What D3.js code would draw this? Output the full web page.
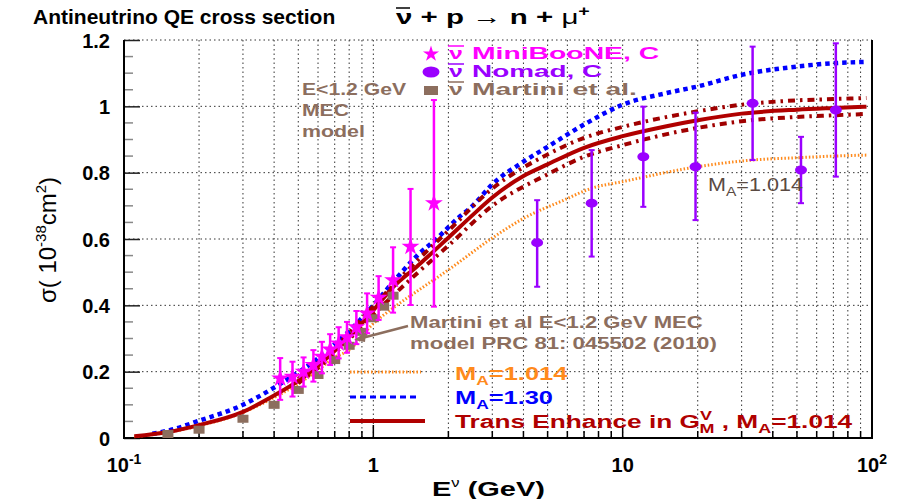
<!DOCTYPE html>
<html><head><meta charset="utf-8">
<script src="https://cdn.jsdelivr.net/npm/d3@7"></script>
<style>
body{margin:0;background:#fff}
svg{display:block}
text{font-family:"Liberation Sans",Arial,Helvetica,sans-serif}
</style>
</head><body>
<svg id="c" width="899" height="499"></svg>
<script>
// ---------- data ----------
const xTickValues = [0.1, 1, 10, 100];
const xTickLabels = [["10","-1"], ["1",""], ["10",""], ["10","2"]];
const yTickValues = [0, 0.2, 0.4, 0.6, 0.8, 1, 1.2];
const yTickLabels = ["0", "0.2", "0.4", "0.6", "0.8", "1", "1.2"];

// MiniBooNE antineutrino CCQE on C
const miniE     = [0.423,0.474,0.525,0.575,0.622,0.671,0.726,0.784,0.855,0.944,1.05,1.2,1.41,1.75];
const miniSigma = [0.18,0.185,0.2,0.22,0.245,0.267,0.285,0.304,0.334,0.376,0.423,0.476,0.577,0.708];
const miniLo    = [0.115,0.125,0.155,0.17,0.195,0.22,0.24,0.257,0.283,0.316,0.356,0.378,0.401,0.396];
const miniHi    = [0.241,0.23,0.243,0.265,0.29,0.313,0.334,0.35,0.383,0.436,0.488,0.575,0.751,1.019];

// NOMAD antineutrino on C
const nomadE     = [4.54,7.51,12.1,19.6,33.2,51.9,71.6];
const nomadSigma = [0.589,0.708,0.848,0.818,1.009,0.808,0.989];
const nomadLo    = [0.456,0.547,0.697,0.657,0.838,0.708,0.788];
const nomadHi    = [0.717,0.868,0.999,0.981,1.18,0.908,1.19];

// Martini et al. MEC model
const martiniE     = [0.15,0.2,0.3,0.4,0.5,0.6,0.7,0.8,0.9,1.0,1.1,1.2];
const martiniSigma = [0.012,0.025,0.058,0.1,0.145,0.19,0.235,0.278,0.32,0.361,0.396,0.429];

// Transverse enhancement curve, M_A=1.014, with error band
const redE     = [0.11,0.15,0.2,0.3,0.4,0.5,0.6,0.7,0.8,1.0,1.2,1.5,2,2.5,3,4,5,7,10,15,20,30,50,70,95];
const redSigma = [0.005,0.018,0.039,0.079,0.128,0.172,0.218,0.263,0.305,0.385,0.455,0.518,0.604,0.672,0.725,0.79,0.825,0.875,0.91,0.94,0.958,0.978,0.99,0.995,0.999];
const bandE    = [0.5,0.7,1,1.5,2,3,5,7,10,20,30,50,70,95];
const bandHi   = [0.178,0.272,0.397,0.535,0.625,0.752,0.855,0.905,0.938,0.985,1.005,1.018,1.022,1.025];
const bandLo   = [0.165,0.255,0.372,0.497,0.58,0.7,0.795,0.848,0.883,0.935,0.955,0.968,0.973,0.977];

// M_A = 1.30
const blueE     = [0.13,0.15,0.2,0.3,0.4,0.5,0.6,0.7,0.8,1.0,1.2,1.5,1.8,2.2,2.5,3,4,5,7,10,15,20,30,50,70,95];
const blueSigma = [0.013,0.022,0.052,0.1,0.152,0.198,0.24,0.283,0.322,0.4,0.47,0.55,0.602,0.665,0.7,0.765,0.833,0.878,0.945,1.005,1.04,1.06,1.095,1.12,1.13,1.134];

// M_A = 1.014
const orangeE     = [0.11,0.15,0.2,0.3,0.4,0.5,0.6,0.7,0.8,1.0,1.2,1.5,2,3,4,5.8,7.5,10,20,33,50,70,95];
const orangeSigma = [0.004,0.017,0.037,0.077,0.122,0.163,0.205,0.243,0.265,0.345,0.392,0.443,0.507,0.603,0.662,0.717,0.753,0.773,0.818,0.838,0.845,0.85,0.853];

// ---------- drawing ----------
const svg = d3.select("#c");
const L = 124, R = 872, T = 40, B = 438;
const x = d3.scaleLog().domain([0.1, 100]).range([L, R]);
const y = d3.scaleLinear().domain([0, 1.2]).range([B, T]);

const C = {
  magenta: "#ff00ff", purple: "#9a00ff", brown: "#8c6e5e", red: "#b00000",
  band: "#a00000", blue: "#0000ff", orange: "#ff8a1c", dark: "#5a4a42"
};

// grid
const minorX = [];
[0.1, 1, 10].forEach(d => { for (let k = 1; k <= 9; k++) minorX.push(d * k); });
minorX.push(100);
const grid = svg.append("g");
grid.selectAll("line.vx").data(minorX.filter(v => v > 0.1 && v < 100)).join("line")
  .attr("x1", d => x(d)).attr("x2", d => x(d)).attr("y1", T).attr("y2", B)
  .attr("stroke", "#333").attr("stroke-width", 1).attr("stroke-dasharray", "1.5,3");
grid.selectAll("line.hy").data(yTickValues.filter(v => v > 0)).join("line")
  .attr("x1", L).attr("x2", R).attr("y1", d => y(d)).attr("y2", d => y(d))
  .attr("stroke", "#333").attr("stroke-width", 1).attr("stroke-dasharray", "1.5,3");

// y ticks (inside)
const yMinor = d3.range(0, 1.2001, 0.05).filter(v => Math.abs(v / 0.2 - Math.round(v / 0.2)) > 1e-6);
svg.append("g").selectAll("line").data(yMinor).join("line")
  .attr("x1", L).attr("x2", L + 9).attr("y1", d => y(d)).attr("y2", d => y(d))
  .attr("stroke", "#888").attr("stroke-width", 1.5);
const yAxis = d3.axisLeft(y).tickValues(yTickValues).tickSize(-16).tickFormat((d, i) => yTickLabels[i]);
const ya = svg.append("g").attr("transform", `translate(${L},0)`).call(yAxis);
ya.select(".domain").remove();
ya.selectAll(".tick line").attr("stroke", "#222").attr("stroke-width", 1.5);
ya.selectAll(".tick text").attr("x", -14).attr("dy", "0.36em")
  .attr("font-size", 20).attr("font-weight", "bold").attr("fill", "#000")
  .attr("font-family", "Liberation Sans, Arial, sans-serif");

// x ticks (inside)
const xa = svg.append("g");
xa.selectAll("line").data(minorX.filter(v => v > 0.1 && v < 100)).join("line")
  .attr("x1", d => x(d)).attr("x2", d => x(d)).attr("y1", B).attr("y2", d => xTickValues.includes(d) ? B - 13 : B - 7)
  .attr("stroke", "#000").attr("stroke-width", 1.5);
const xl = xa.selectAll("text").data(xTickValues).join("text")
  .attr("x", d => x(d)).attr("y", 472).attr("text-anchor", "middle")
  .attr("font-size", 20).attr("font-weight", "bold");
xl.append("tspan").text((d, i) => xTickLabels[i][0]);
xl.append("tspan").attr("dy", -8).attr("font-size", 14).text((d, i) => xTickLabels[i][1]);

// frame
svg.append("path").attr("d", `M${L},${T}V${B}H${R}V${T}`).attr("fill", "none")
  .attr("stroke", "#000").attr("stroke-width", 2);

// curves
const line = d3.line().x(d => x(d[0])).y(d => y(d[1])).curve(d3.curveMonotoneX);
const zip = (a, b) => a.map((v, i) => [v, b[i]]);
const curves = svg.append("g");
curves.append("path").datum(zip(orangeE, orangeSigma)).attr("d", line)
  .attr("fill", "none").attr("stroke", C.orange).attr("stroke-width", 3).attr("stroke-dasharray", "1.5,2");
curves.append("path").datum(zip(blueE, blueSigma)).attr("d", line)
  .attr("fill", "none").attr("stroke", C.blue).attr("stroke-width", 4.5).attr("stroke-dasharray", "4.5,4");
curves.append("path").datum(zip(bandE, bandHi)).attr("d", line)
  .attr("fill", "none").attr("stroke", C.band).attr("stroke-width", 4).attr("stroke-dasharray", "7,5,2.5,5");
curves.append("path").datum(zip(bandE, bandLo)).attr("d", line)
  .attr("fill", "none").attr("stroke", C.band).attr("stroke-width", 4).attr("stroke-dasharray", "7,5,2.5,5");
curves.append("path").datum(zip(redE, redSigma)).attr("d", line)
  .attr("fill", "none").attr("stroke", C.red).attr("stroke-width", 4);

// Martini squares
svg.append("g").selectAll("rect").data(zip(martiniE, martiniSigma)).join("rect")
  .attr("x", d => x(d[0]) - 5.5).attr("y", d => y(d[1]) - 4).attr("width", 11).attr("height", 8)
  .attr("fill", C.brown);

// error bars helper
function errBars(E, S, lo, hi, col) {
  const g = svg.append("g");
  const d = E.map((e, i) => ({ e, s: S[i], lo: lo[i], hi: hi[i] }));
  g.selectAll("line.v").data(d).join("line")
    .attr("x1", p => x(p.e)).attr("x2", p => x(p.e)).attr("y1", p => y(p.lo)).attr("y2", p => y(p.hi))
    .attr("stroke", col).attr("stroke-width", 2.5);
  ["lo", "hi"].forEach(k => {
    g.selectAll("line." + k).data(d).join("line")
      .attr("x1", p => x(p.e) - 3).attr("x2", p => x(p.e) + 3).attr("y1", p => y(p[k])).attr("y2", p => y(p[k]))
      .attr("stroke", col).attr("stroke-width", 2);
  });
  return { g, d };
}
const mb = errBars(miniE, miniSigma, miniLo, miniHi, C.magenta);
const star = d3.symbol().type(d3.symbolStar).size(100);
mb.g.selectAll("path").data(mb.d).join("path")
  .attr("transform", p => `translate(${x(p.e)},${y(p.s)})`).attr("d", star).attr("fill", C.magenta);
const nm = errBars(nomadE, nomadSigma, nomadLo, nomadHi, C.purple);
nm.g.selectAll("ellipse").data(nm.d).join("ellipse")
  .attr("cx", p => x(p.e)).attr("cy", p => y(p.s)).attr("rx", 6).attr("ry", 4.5).attr("fill", C.purple);

// Martini arrow
svg.append("line").attr("x1", 408).attr("y1", 326).attr("x2", 362).attr("y2", 338)
  .attr("stroke", C.brown).attr("stroke-width", 2.5);
svg.append("path").attr("d", "M354,340 L366,332 L365,342 Z").attr("fill", C.brown);

// ---------- text ----------
function T_(x0, y0, col, size, weight, anchor) {
  return svg.append("text").attr("x", x0).attr("y", y0).attr("fill", col)
    .attr("font-size", size).attr("font-weight", weight || "bold").attr("text-anchor", anchor || "start");
}
// stretch a start-anchored text horizontally so that it spans [x0, x0+w]
function fit(sel, x0, w) {
  const bb = sel.node().getBBox();
  const s = w / bb.width;
  sel.attr("transform", `translate(${x0 - bb.x * s},0) scale(${s},1)`);
  return sel;
}
// title
T_(33, 24, "#000", 21).text("Antineutrino QE cross section");
const t2 = T_(396, 24, "#000", 21);
t2.append("tspan").text("ν");
t2.append("tspan").text(" + p ");
t2.append("tspan").attr("font-weight", "normal").text("→");
t2.append("tspan").text(" n + ");
t2.append("tspan").attr("font-weight", "normal").text("μ");
t2.append("tspan").attr("dy", -8).attr("font-size", 14).text("+");
fit(t2, 396, 194);
svg.append("line").attr("x1", 396).attr("x2", 410).attr("y1", 8).attr("y2", 8).attr("stroke", "#000").attr("stroke-width", 1.5);

// axis titles
const xt = T_(432, 496, "#000", 21, "bold", "start");
xt.append("tspan").text("E");
xt.append("tspan").attr("dy", -9).attr("font-size", 12).attr("font-weight", "normal").text("ν");
xt.append("tspan").attr("dy", 9).text(" (GeV)");
fit(xt, 432, 113);
const yt = svg.append("text").attr("transform", "translate(56,240) rotate(-90)").attr("text-anchor", "middle")
  .attr("font-size", 24).attr("fill", "#000");
yt.append("tspan").text("σ( 10");
yt.append("tspan").attr("dy", -10).attr("font-size", 15).text("-38");
yt.append("tspan").attr("dy", 10).text("cm");
yt.append("tspan").attr("dy", -10).attr("font-size", 15).text("2");
yt.append("tspan").attr("dy", 10).text(")");

// top legend
const legRows = [
  { y: 59, label: "MiniBooNE, C", col: C.magenta, w: 188 },
  { y: 77, label: "Nomad, C", col: C.purple, w: 131 },
  { y: 95, label: "Martini et al.", col: C.brown, w: 165 }
];
legRows.forEach((r, i) => {
  const cy = r.y - 5;
  if (i === 0) svg.append("path").attr("transform", `translate(431,${cy})`).attr("d", d3.symbol().type(d3.symbolStar).size(80)).attr("fill", r.col);
  if (i === 1) svg.append("ellipse").attr("cx", 431).attr("cy", cy).attr("rx", 8.5).attr("ry", 5.5).attr("fill", r.col);
  if (i === 2) svg.append("rect").attr("x", 424).attr("y", cy - 4).attr("width", 14).attr("height", 9).attr("fill", r.col);
  const nu = T_(449, r.y, r.col, 16).text("ν");
  fit(nu, 449, 14);
  svg.append("line").attr("x1", 448).attr("x2", 464).attr("y1", r.y - 13).attr("y2", r.y - 13).attr("stroke", r.col).attr("stroke-width", 1.5);
  fit(T_(472, r.y, r.col, 16).text(r.label), 472, r.w);
});

// MEC note
fit(T_(302, 95, C.brown, 17).text("E<1.2 GeV"), 302, 105);
fit(T_(302, 116, C.brown, 17).text("MEC"), 302, 47);
fit(T_(302, 137, C.brown, 17).text("model"), 302, 63);
fit(T_(410, 328, C.brown, 17).text("Martini et al E<1.2 GeV MEC"), 410, 293);
fit(T_(410, 349, C.brown, 17).text("model PRC 81: 045502 (2010)"), 410, 307);

// M_A label near data
const ma = T_(708, 191, C.dark, 18, "normal");
ma.append("tspan").text("M");
ma.append("tspan").attr("dy", 5).attr("font-size", 13).text("A");
ma.append("tspan").attr("dy", -5).text("=1.014");
fit(ma, 708, 95);

// bottom legend
svg.append("line").attr("x1", 350).attr("x2", 421).attr("y1", 372).attr("y2", 372)
  .attr("stroke", C.orange).attr("stroke-width", 3).attr("stroke-dasharray", "1.5,2");
svg.append("line").attr("x1", 350).attr("x2", 420).attr("y1", 397).attr("y2", 397)
  .attr("stroke", C.blue).attr("stroke-width", 3).attr("stroke-dasharray", "6,4");
svg.append("line").attr("x1", 350).attr("x2", 425).attr("y1", 421).attr("y2", 421)
  .attr("stroke", C.red).attr("stroke-width", 4);
function maLabel(x0, y0, col, val, w) {
  const t = T_(x0, y0, col, 19);
  t.append("tspan").text("M");
  t.append("tspan").attr("dy", 5).attr("font-size", 13).text("A");
  t.append("tspan").attr("dy", -5).text("=" + val);
  return fit(t, x0, w);
}
maLabel(455, 380, C.orange, "1.014", 113);
maLabel(455, 404, C.blue, "1.30", 98);
const tr = T_(455, 428, C.red, 19);
tr.append("tspan").text("Trans Enhance in G");
tr.append("tspan").attr("dy", -8).attr("font-size", 13).text("V");
tr.append("tspan").attr("dx", -9).attr("dy", 13).attr("font-size", 13).text("M");
tr.append("tspan").attr("dy", -5).text(" , M");
tr.append("tspan").attr("dy", 5).attr("font-size", 13).text("A");
tr.append("tspan").attr("dy", -5).text("=1.014");
fit(tr, 455, 398);
</script>
</body></html>
